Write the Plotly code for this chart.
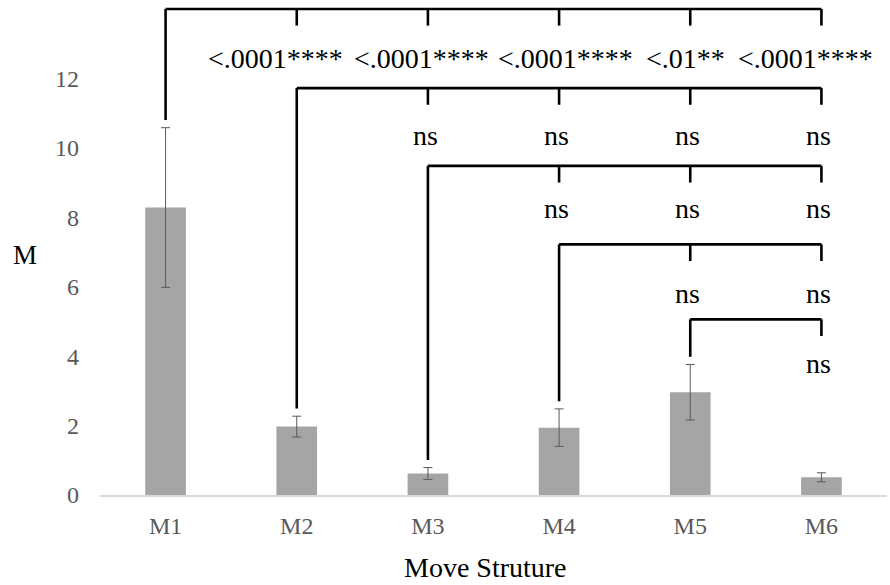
import plotly.graph_objects as go

# ---- data ----
categories = ["M1", "M2", "M3", "M4", "M5", "M6"]
means = [8.28, 1.97, 0.62, 1.94, 2.96, 0.51]
errors = [2.3, 0.3, 0.17, 0.54, 0.8, 0.13]
y_ticks = [0, 2, 4, 6, 8, 10, 12]

# comparisons: reference category index -> labels for the following categories
comparison_refs = [0, 1, 2, 3, 4]
comparison_labels = [
    ["<.0001****", "<.0001****", "<.0001****", "<.01**", "<.0001****"],
    ["ns", "ns", "ns", "ns"],
    ["ns", "ns", "ns"],
    ["ns", "ns"],
    ["ns"],
]

# ---- layout constants (positions / styles) ----
bracket_heights = [14.0, 11.72, 9.48, 7.22, 5.06]
label_heights = [12.57, 10.36, 8.26, 5.81, 3.80]
tick_len = 0.48
drop_gap = 0.22
row1_offsets = [-0.16, -0.05, 0.05, -0.04, -0.12]

FONT = "Liberation Serif, Times New Roman, serif"
x = list(range(len(categories)))

fig = go.Figure()
fig.add_trace(go.Bar(
    x=x, y=means,
    marker=dict(color="#A5A5A5", line=dict(width=0)),
    width=0.31,
    error_y=dict(type="data", array=errors, visible=True,
                 color="#595959", thickness=1, width=4.5),
    hoverinfo="skip",
))

shapes = []
annotations = []
line_style = dict(color="black", width=2.6)
for gi, ref in enumerate(comparison_refs):
    h = bracket_heights[gi]
    targets = list(range(ref + 1, len(categories)))
    shapes.append(dict(type="line", xref="x", yref="y", x0=ref, x1=targets[-1],
                       y0=h, y1=h, line=line_style))
    shapes.append(dict(type="line", xref="x", yref="y", x0=ref, x1=ref,
                       y0=h, y1=means[ref] + errors[ref] + drop_gap, line=line_style))
    for ti, t in enumerate(targets):
        shapes.append(dict(type="line", xref="x", yref="y", x0=t, x1=t,
                           y0=h, y1=h - tick_len, line=line_style))
        off = row1_offsets[ti] if gi == 0 else -0.02
        annotations.append(dict(x=t + off, y=label_heights[gi], xref="x", yref="y",
                                text=comparison_labels[gi][ti], showarrow=False,
                                font=dict(family=FONT, size=28, color="black"),
                                xanchor="center", yanchor="middle"))

annotations.append(dict(x=-0.095, y=6.91, xref="paper", yref="y", text="M",
                        showarrow=False, xanchor="center", yanchor="middle",
                        font=dict(family=FONT, size=27, color="black")))
annotations.append(dict(x=0.49, y=-0.148, xref="paper", yref="paper",
                        text="Move Struture", showarrow=False,
                        xanchor="center", yanchor="middle",
                        font=dict(family=FONT, size=28, color="black")))

fig.update_layout(
    width=890, height=585,
    margin=dict(l=100, r=3, t=2, b=90),
    paper_bgcolor="white", plot_bgcolor="white",
    showlegend=False,
    shapes=shapes, annotations=annotations,
    xaxis=dict(range=[-0.5, 5.5], tickvals=x, ticktext=categories,
               showgrid=False, zeroline=False, showline=True,
               linecolor="#D9D9D9", linewidth=1.5, ticks="",
               tickfont=dict(family=FONT, size=24, color="#595959"),
               ticklabelstandoff=8),
    yaxis=dict(range=[0, 14.2], tickvals=y_ticks, showgrid=False,
               zeroline=False, showline=False, ticks="",
               tickfont=dict(family=FONT, size=24, color="#595959"),
               ticklabelstandoff=20),
)

fig.write_html("out.html")
